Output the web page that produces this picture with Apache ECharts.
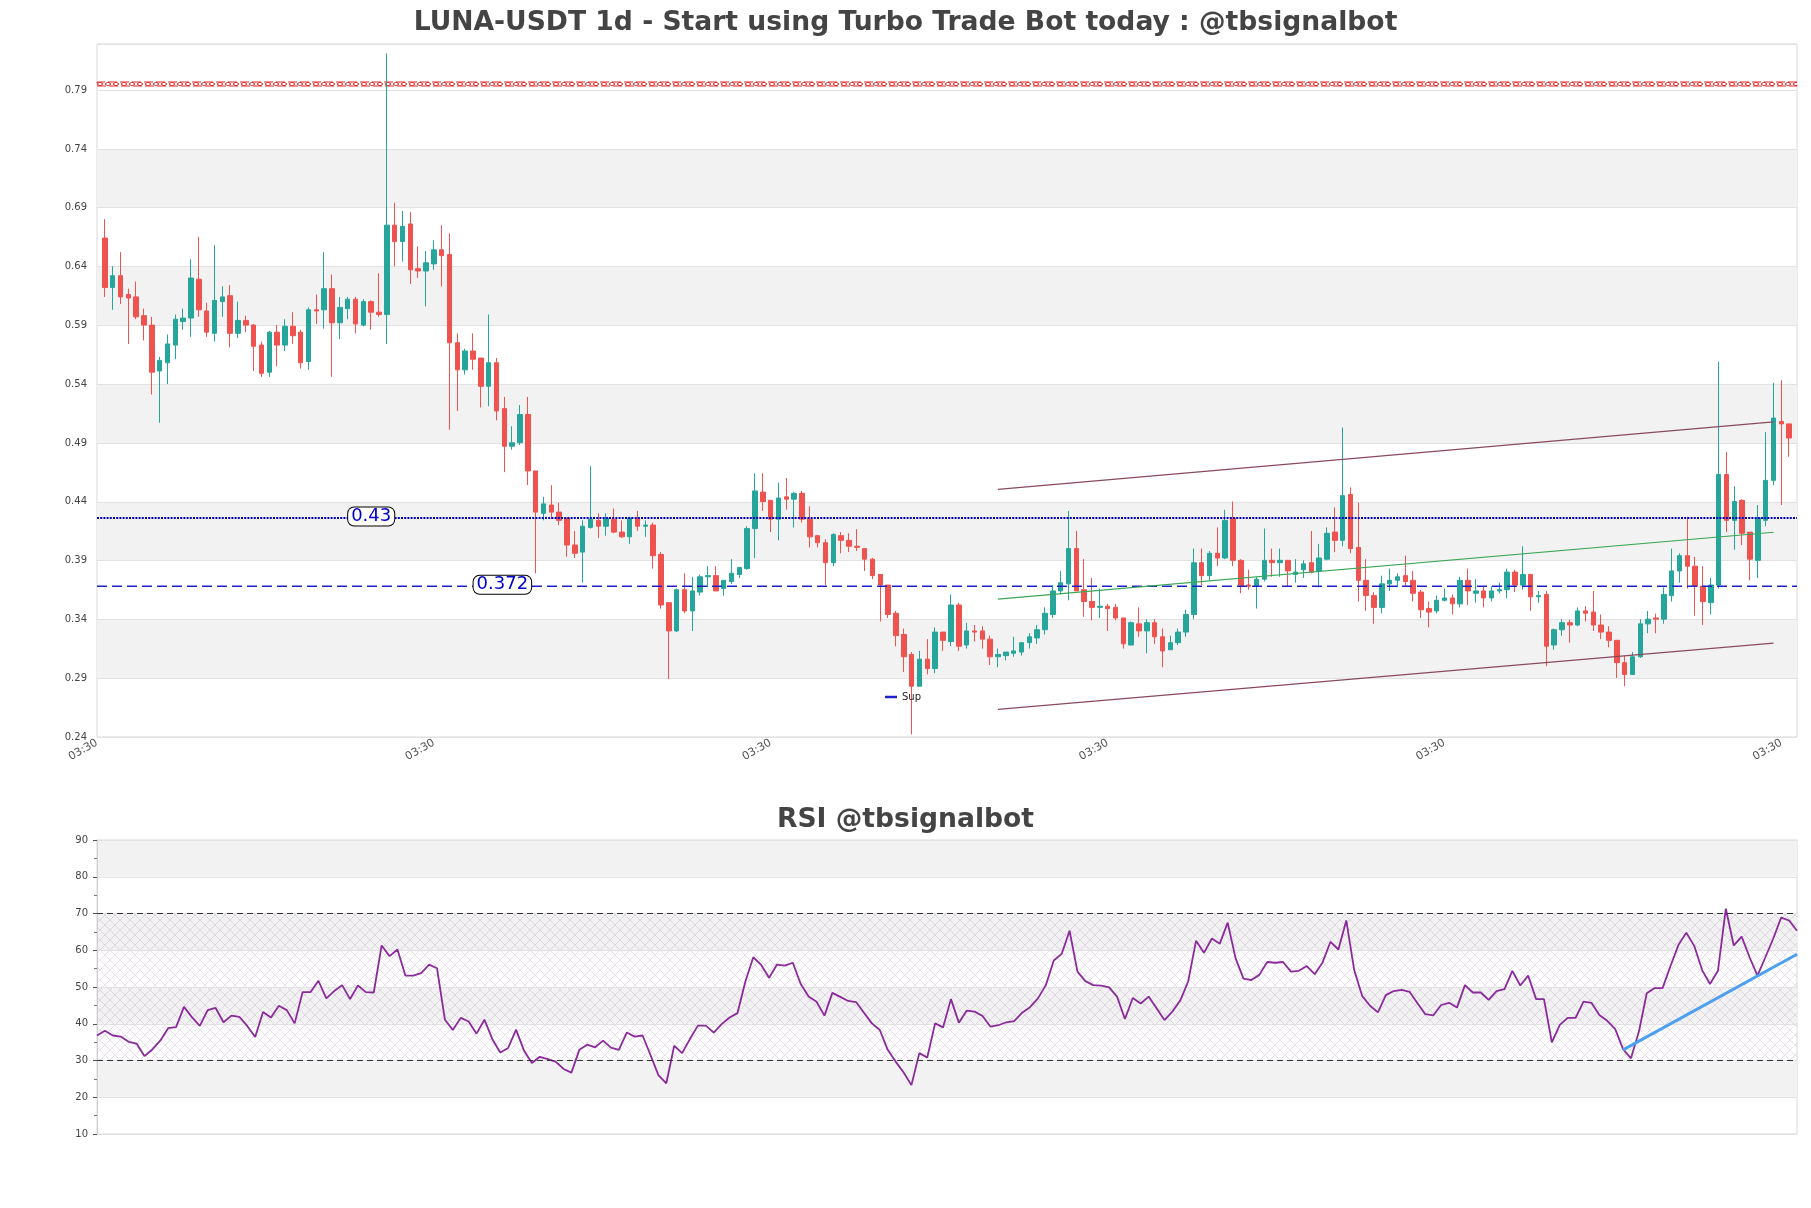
<!DOCTYPE html>
<html><head><meta charset="utf-8">
<script src="https://cdn.jsdelivr.net/npm/echarts@6/dist/echarts.min.js"></script>
<style>html,body{margin:0;padding:0;background:#fff}#main{width:1811px;height:1208px}</style>
</head><body><div id="main"></div><script>
// ---------- DATA ----------
const opens = [.668,.626,.636,.620,.618,.602,.594,.555,.562,.577,
.597,.600,.633,.606,.587,.614,.619,.587,.598,.594,
.577,.554,.588,.577,.593,.588,.563,.607,.607,.625,
.596,.608,.616,.594,.614,.605,.603,.679,.665,.680,
.642,.640,.646,.658,.654,.579,.556,.572,.566,.542,
.562,.523,.491,.494,.518,.470,.434,.441,.435,.430,
.407,.401,.422,.428,.423,.429,.418,.414,.430,.423,
.424,.399,.358,.334,.369,.351,.367,.380,.381,.370,
.376,.382,.387,.421,.452,.445,.429,.448,.446,.451,
.429,.415,.409,.392,.415,.411,.406,.404,.395,.382,
.373,.349,.331,.314,.287,.310,.302,.333,.325,.356,
.322,.334,.334,.327,.312,.313,.315,.316,.324,.328,
.335,.348,.368,.374,.404,.369,.359,.354,.355,.354,
.345,.322,.340,.334,.341,.329,.318,.324,.333,.348,
.392,.381,.400,.396,.430,.394,.373,.372,.378,.394,
.392,.394,.382,.386,.392,.385,.395,.418,.411,.450,
.405,.377,.364,.354,.374,.377,.381,.377,.367,.353,
.351,.360,.362,.357,.377,.366,.368,.362,.368,.369,
.384,.373,.382,.363,.365,.322,.335,.341,.339,.351,
.350,.339,.333,.326,.307,.297,.312,.340,.345,.344,
.364,.385,.398,.389,.372,.358,.373,.467,.428,.445,
.418,.394,.428,.462,.512,.510];
const closes = [.626,.636,.618,.617,.601,.594,.554,.564,.578,.599,
.600,.634,.607,.588,.615,.618,.587,.598,.594,.576,
.553,.588,.577,.593,.585,.562,.607,.606,.625,.596,
.609,.616,.595,.614,.605,.603,.679,.665,.678,.641,
.640,.647,.658,.653,.579,.556,.572,.565,.542,.562,
.521,.491,.494,.518,.470,.435,.442,.435,.428,.407,
.400,.423,.429,.423,.430,.418,.414,.430,.423,.424,
.398,.356,.334,.369,.351,.368,.380,.381,.368,.377,
.383,.388,.421,.453,.444,.429,.447,.446,.451,.429,
.414,.409,.392,.416,.411,.406,.405,.395,.381,.373,
.348,.330,.312,.287,.310,.302,.333,.326,.356,.321,
.334,.333,.327,.312,.314,.316,.317,.324,.329,.335,
.349,.368,.375,.404,.368,.359,.354,.355,.353,.345,
.323,.341,.334,.341,.329,.317,.324,.333,.348,.392,
.381,.400,.396,.428,.394,.372,.372,.378,.394,.392,
.394,.385,.384,.391,.384,.396,.417,.411,.449,.404,
.377,.364,.354,.374,.377,.380,.376,.366,.352,.350,
.360,.362,.357,.377,.368,.368,.362,.368,.369,.384,
.373,.382,.363,.364,.321,.335,.341,.339,.351,.349,
.339,.333,.326,.307,.297,.312,.340,.344,.344,.365,
.385,.398,.389,.372,.359,.373,.467,.428,.444,.417,
.395,.430,.462,.515,.510,.498];
const highs = [.684,.644,.656,.625,.631,.608,.601,.567,.586,.603,
.608,.650,.669,.613,.662,.627,.628,.614,.602,.595,
.580,.589,.594,.599,.605,.590,.609,.620,.656,.637,
.618,.618,.618,.616,.615,.638,.825,.698,.691,.690,
.661,.657,.666,.679,.672,.587,.574,.587,.566,.603,
.566,.533,.508,.526,.533,.470,.448,.458,.443,.430,
.419,.428,.474,.434,.434,.438,.428,.431,.436,.428,
.426,.401,.358,.370,.383,.380,.382,.389,.389,.377,
.395,.388,.423,.468,.468,.445,.460,.464,.452,.453,
.440,.415,.412,.417,.418,.417,.4205,.404,.396,.382,
.373,.351,.336,.316,.317,.327,.337,.333,.365,.358,
.341,.339,.338,.330,.319,.316,.329,.324,.332,.339,
.354,.373,.385,.436,.419,.395,.379,.370,.357,.357,
.345,.342,.354,.344,.344,.336,.330,.336,.352,.404,
.404,.402,.422,.437,.444,.395,.386,.380,.421,.404,
.404,.394,.395,.394,.419,.408,.422,.439,.507,.456,
.443,.395,.367,.381,.387,.383,.398,.385,.369,.359,
.364,.370,.365,.380,.387,.378,.372,.372,.375,.387,
.386,.406,.382,.368,.368,.336,.344,.3435,.354,.355,
.368,.348,.338,.326,.313,.316,.344,.351,.3486,.371,
.404,.400,.431,.397,.389,.379,.563,.486,.457,.446,
.418,.441,.503,.545,.547,.510];
const lows = [.618,.607,.612,.578,.599,.581,.535,.511,.544,.565,
.590,.584,.601,.584,.580,.601,.575,.583,.588,.555,
.550,.550,.559,.572,.578,.557,.556,.595,.591,.550,
.582,.599,.587,.593,.590,.601,.578,.644,.648,.629,
.634,.610,.641,.627,.505,.521,.552,.556,.524,.525,
.513,.469,.488,.492,.458,.383,.428,.429,.424,.397,
.396,.375,.421,.413,.415,.417,.413,.408,.419,.414,
.387,.353,.293,.333,.349,.334,.364,.371,.368,.364,
.374,.379,.386,.396,.436,.418,.411,.437,.422,.426,
.405,.405,.373,.389,.400,.401,.402,.385,.378,.342,
.345,.321,.299,.246,.287,.297,.298,.317,.321,.317,
.319,.325,.319,.305,.303,.309,.312,.313,.319,.323,
.331,.345,.365,.360,.368,.346,.343,.345,.334,.343,
.319,.322,.329,.315,.323,.303,.318,.322,.329,.344,
.373,.377,.389,.395,.389,.366,.369,.353,.376,.380,
.380,.372,.375,.379,.383,.371,.394,.401,.406,.400,
.359,.351,.340,.349,.368,.371,.372,.359,.345,.337,
.349,.359,.348,.354,.356,.358,.354,.359,.366,.362,
.367,.369,.351,.358,.304,.318,.330,.324,.338,.342,
.334,.327,.320,.294,.287,.297,.311,.332,.332,.340,
.359,.375,.370,.347,.339,.348,.370,.418,.403,.407,
.377,.379,.423,.458,.441,.482];
const rsi = [36.8,38.1,36.8,36.5,35.1,34.6,31.2,33.0,35.4,38.8,
39.1,44.6,41.8,39.4,43.7,44.3,40.4,42.2,41.9,39.4,
36.4,43.2,41.7,44.9,43.7,40.1,48.6,48.6,51.7,46.9,
48.9,50.5,46.7,50.4,48.6,48.5,61.3,58.4,60.2,53.1,
53.1,53.8,56.1,55.1,41.1,38.3,41.6,40.6,37.3,41.1,
35.8,32.2,33.4,38.4,32.7,29.3,31.0,30.4,29.7,27.7,
26.7,32.9,34.3,33.6,35.4,33.5,32.9,37.6,36.5,36.8,
31.5,26.0,23.8,34.0,32.0,35.9,39.5,39.5,37.6,39.9,
41.7,42.9,51.5,58.1,56.0,52.5,56.1,55.8,56.6,50.8,
47.4,46.0,42.2,48.4,47.3,46.2,45.9,43.0,40.1,38.3,
32.9,29.7,26.8,23.3,32.0,30.8,40.1,39.0,46.7,40.3,
43.6,43.3,42.1,39.2,39.6,40.4,40.7,43.0,44.5,46.9,
50.5,57.2,59.0,65.3,54.2,51.6,50.5,50.4,49.9,47.4,
41.3,47.0,45.5,47.4,44.2,41.0,43.3,46.3,51.5,62.6,
59.3,63.2,61.8,67.5,57.8,52.3,51.9,53.3,56.8,56.6,
56.8,54.2,54.4,55.7,53.5,56.7,62.3,60.2,68.1,54.6,
47.6,44.9,43.1,47.8,48.9,49.2,48.7,45.6,42.6,42.3,
45.1,45.7,44.4,50.5,48.5,48.5,46.5,48.9,49.4,54.4,
50.4,53.1,46.7,46.7,34.9,39.7,41.6,41.6,46.0,45.7,
42.4,40.8,38.6,33.1,30.6,37.8,48.3,49.7,49.7,55.7,
61.4,64.8,61.2,54.6,50.8,54.4,71.3,61.3,63.7,58.1,
53.1,58.1,63.2,68.9,68.1,65.3];
const xTickLabel = '03:30';
const priceTicks = {min: 0.2438, max: 0.833, step: 0.05};
const rsiTicks = {min: 10, max: 90, step: 10};
const resistance = 0.799;
const levelDotted = 0.43;
const levelSup = 0.372;
// channel lines: [candle index, value]
const channelUpper = [[114, 0.4544], [213, 0.5118]];
const channelMid   = [[114, 0.3610], [213, 0.4179]];
const channelLower = [[114, 0.2673], [213, 0.3236]];
const rsiTrend = [[193, 32.9], [215, 58.9]];

// ---------- BUILD ----------
const N = opens.length;
const cats = [];
for (let i = -1; i <= N; i++) cats.push(xTickLabel);
const candleData = [['-','-','-','-']];
for (let i = 0; i < N; i++) candleData.push([opens[i], closes[i], lows[i], highs[i]]);
candleData.push(['-','-','-','-']);
const toCat = arr => arr.map(p => [p[0] + 1, p[1]]);
const rsiCats = rsi.map((_, i) => String(i));

function pattern(w, h, draw) {
  const c = document.createElement('canvas');
  c.width = w; c.height = h;
  const g = c.getContext('2d');
  draw(g);
  return c;
}
const rsiHatch = pattern(10, 10, g => {
  g.strokeStyle = 'rgba(150,120,175,0.32)'; g.lineWidth = 0.7;
  g.beginPath(); g.moveTo(0,0); g.lineTo(10,10); g.moveTo(10,0); g.lineTo(0,10); g.stroke();
});
const redX = pattern(8, 4, g => {
  g.strokeStyle = '#e0282a'; g.lineWidth = 1;
  g.beginPath(); g.moveTo(1,0); g.lineTo(7,4); g.moveTo(7,0); g.lineTo(1,4); g.stroke();
});

const bandColor = '#f2f2f2';
const priceBands = [];
for (let k = 1; k <= 9; k += 2) {
  const a = priceTicks.min + k * priceTicks.step;
  priceBands.push([{yAxis: a, itemStyle: {color: bandColor}}, {yAxis: a + priceTicks.step}]);
}
priceBands.push([{yAxis: resistance - 0.0017, itemStyle: {color: {image: redX, repeat: 'repeat'}, borderColor: '#e0282a', borderWidth: 1, borderType: [9, 3]}}, {yAxis: resistance + 0.0017}]);

const rsiBands = [[20,30],[40,50],[60,70],[80,90]].map(b => [{yAxis: b[0], itemStyle: {color: bandColor}}, {yAxis: b[1]}]);
rsiBands.push([{yAxis: 30, itemStyle: {color: {image: rsiHatch, repeat: 'repeat'}}}, {yAxis: 70}]);

const font = 'DejaVu Sans';
const chart = echarts.init(document.getElementById('main'), null, {renderer: 'canvas'});
chart.setOption({
  animation: false,
  backgroundColor: '#ffffff',
  textStyle: {fontFamily: font},
  title: [
    {text: 'LUNA-USDT 1d - Start using Turbo Trade Bot today : @tbsignalbot', left: 'center', top: 5,
     textStyle: {fontFamily: font, fontWeight: 'bold', fontSize: 26.6, color: '#444'}},
    {text: 'RSI @tbsignalbot', left: 'center', top: 802,
     textStyle: {fontFamily: font, fontWeight: 'bold', fontSize: 26.6, color: '#444'}}
  ],
  legend: {data: ['Sup'], left: 880, top: 687, icon: 'rect', itemWidth: 12, itemHeight: 2.5,
    selectedMode: false, textStyle: {fontSize: 10, color: '#222', fontFamily: font}},
  grid: [
    {left: 97, top: 44, width: 1700, height: 693, show: true, borderColor: '#d9d9d9', borderWidth: 1, containLabel: false},
    {left: 97, top: 840, width: 1700, height: 294, show: true, borderColor: '#d9d9d9', borderWidth: 1, containLabel: false}
  ],
  xAxis: [
    {type: 'category', data: cats, boundaryGap: false, gridIndex: 0,
     axisLine: {show: false}, axisTick: {show: false}, splitLine: {show: false},
     axisLabel: {interval: 42, rotate: 30, fontSize: 11, color: '#555', margin: 5, fontFamily: font}},
    {type: 'category', data: rsiCats, boundaryGap: false, gridIndex: 1,
     axisLine: {show: false}, axisTick: {show: false}, axisLabel: {show: false}, splitLine: {show: false}}
  ],
  yAxis: [
    {type: 'value', gridIndex: 0, min: priceTicks.min, max: priceTicks.max, interval: priceTicks.step, z: 1.5,
     axisLine: {show: false}, axisTick: {show: false},
     axisLabel: {formatter: v => v.toFixed(2), fontSize: 10, color: '#444', margin: 10, showMaxLabel: false, fontFamily: font},
     splitLine: {show: true, lineStyle: {color: '#e2e2e2', width: 1}}},
    {type: 'value', gridIndex: 1, min: rsiTicks.min, max: rsiTicks.max, interval: rsiTicks.step, z: 1.5,
     axisLine: {show: true, lineStyle: {color: '#d0d0d0'}},
     axisTick: {show: true, length: 4, lineStyle: {color: '#555'}},
     minorTick: {show: true, splitNumber: 2, length: 3, lineStyle: {color: '#777'}},
     axisLabel: {fontSize: 10, color: '#444', margin: 9, fontFamily: font},
     splitLine: {show: true, lineStyle: {color: '#e2e2e2', width: 1}}}
  ],
  series: [
    {type: 'candlestick', name: 'price', xAxisIndex: 0, yAxisIndex: 0, data: candleData, barWidth: 5,
     itemStyle: {color: '#26a69a', color0: '#ef5350', borderColor: '#26a69a', borderColor0: '#ef5350', borderWidth: 1},
     markArea: {silent: true, label: {show: false}, data: priceBands},
     markLine: {silent: true, symbol: ['none', 'none'], label: {show: false},
       lineStyle: {color: '#0000c0', width: 2.2, type: [2, 1.2]}, data: [{yAxis: levelDotted}]},
     markPoint: {silent: true, symbol: 'rect', symbolSize: 1, itemStyle: {color: 'rgba(0,0,0,0)'},
       label: {show: true, position: 'inside', formatter: '{b}', color: '#0000cc', fontSize: 18, fontFamily: font,
         backgroundColor: '#fff', borderColor: '#000', borderWidth: 1, borderRadius: 6, padding: [0, 3, 0, 3], lineHeight: 18},
       data: [
         {name: String(levelDotted), coord: [35, levelDotted], label: {offset: [0, -1.5]}},
         {name: String(levelSup), coord: [52, levelSup], label: {offset: [-2, -1.5]}}
       ]}},
    {type: 'line', name: 'Sup', xAxisIndex: 0, yAxisIndex: 0, data: cats.map(() => levelSup), color: '#2020c8',
     showSymbol: false, silent: true, lineStyle: {color: '#2020c8', width: 1.4, type: [10, 5]}, z: 4},
    {type: 'line', name: 'upper', xAxisIndex: 0, yAxisIndex: 0, data: toCat(channelUpper), showSymbol: false, silent: true,
     lineStyle: {color: '#8a4a5c', width: 1.3}, z: 4},
    {type: 'line', name: 'mid', xAxisIndex: 0, yAxisIndex: 0, data: toCat(channelMid), showSymbol: false, silent: true,
     lineStyle: {color: '#3aa657', width: 1.2}, z: 4},
    {type: 'line', name: 'lower', xAxisIndex: 0, yAxisIndex: 0, data: toCat(channelLower), showSymbol: false, silent: true,
     lineStyle: {color: '#8a4a5c', width: 1.3}, z: 4},
    {type: 'line', name: 'RSI', xAxisIndex: 1, yAxisIndex: 1, data: rsi, showSymbol: false, silent: true,
     lineStyle: {color: '#8b2a9b', width: 1.8}, z: 3,
     markArea: {silent: true, label: {show: false}, data: rsiBands},
     markLine: {silent: true, symbol: ['none', 'none'], label: {show: false},
       lineStyle: {color: '#333', width: 1.2, type: [6, 4]}, data: [{yAxis: 70}, {yAxis: 30}]}},
    {type: 'line', name: 'rsiTrend', xAxisIndex: 1, yAxisIndex: 1, data: rsiTrend, showSymbol: false, silent: true,
     lineStyle: {color: '#4ca0ef', width: 3}, z: 4}
  ]
});
</script></body></html>
